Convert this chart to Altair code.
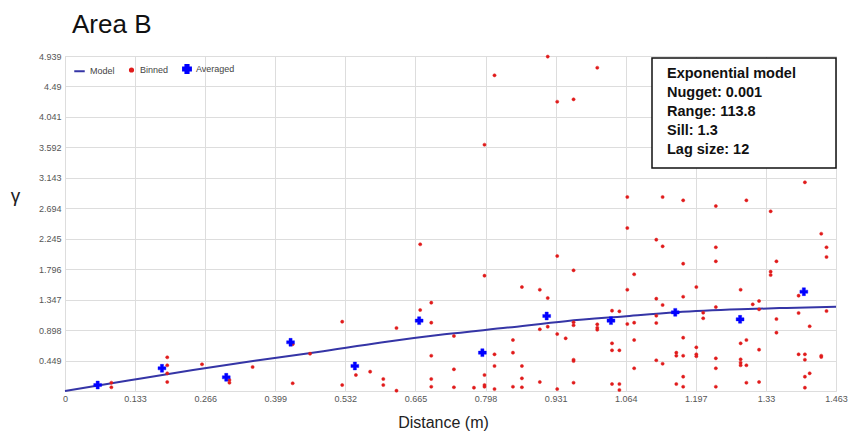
import altair as alt
import pandas as pd

# ---------------- data ----------------
title_text = "Area B"
x_title = "Distance (m)"
y_title = "γ"

x_ticks = [0, 0.133, 0.266, 0.399, 0.532, 0.665, 0.798, 0.931, 1.064, 1.197, 1.33, 1.463]
y_ticks = [0, 0.449, 0.898, 1.347, 1.796, 2.245, 2.694, 3.143, 3.592, 4.041, 4.49, 4.939]

model_x = [0, 0.12, 0.243, 0.36, 0.48, 0.6, 0.72, 0.84, 0.95, 1.06, 1.16, 1.28, 1.37, 1.463]
model_y = [0, 0.155, 0.31, 0.445, 0.575, 0.715, 0.835, 0.935, 1.03, 1.10, 1.16, 1.204, 1.225, 1.243]

avg_x = [0.062, 0.184, 0.306, 0.428, 0.550, 0.672, 0.792, 0.914, 1.036, 1.158, 1.281, 1.402]
avg_y = [0.088, 0.335, 0.202, 0.718, 0.369, 1.037, 0.565, 1.106, 1.037, 1.160, 1.057, 1.464]

bin_x = [0.088, 0.088, 0.194, 0.194, 0.194, 0.194, 0.260, 0.312, 0.312, 0.356,
         0.432, 0.432, 0.465, 0.526, 0.526, 0.552, 0.579, 0.604, 0.604, 0.629,
         0.629, 0.674, 0.674, 0.695, 0.695, 0.695, 0.695, 0.695, 0.738, 0.738,
         0.738, 0.916, 0.815, 1.010, 0.934, 0.965, 0.796, 1.404, 1.067, 1.134,
         1.173, 1.235, 1.293, 1.339, 1.067, 1.435, 1.122, 1.134, 1.235, 1.445,
         0.934, 1.445, 1.235, 1.350, 1.173, 0.965, 1.339, 1.339, 1.080, 0.796,
         0.867, 1.198, 0.901, 1.067, 1.282, 1.173, 0.916, 1.122, 1.317, 1.305,
         1.134, 1.392, 1.235, 1.317, 1.038, 1.052, 1.211, 1.392, 1.122, 1.211,
         1.350, 1.445, 0.965, 0.965, 1.010, 1.010, 1.010, 1.067, 1.080, 1.122,
         0.916, 1.413, 0.901, 0.934, 1.350, 0.950, 1.173, 0.850, 1.080, 1.293,
         1.282, 1.038, 1.198, 1.038, 1.052, 1.317, 0.815, 0.850, 1.160, 1.160,
         1.173, 1.198, 1.198, 1.392, 1.404, 1.404, 1.435, 1.435, 1.235, 1.282,
         1.282, 1.282, 0.965, 0.965, 1.122, 1.134, 1.293, 0.815, 0.867, 1.080,
         1.235, 0.796, 1.413, 1.404, 1.173, 0.867, 0.901, 1.293, 1.317, 0.965,
         1.038, 1.052, 1.160, 0.796, 0.796, 0.815, 0.850, 0.776, 0.867, 1.052,
         1.173, 1.235, 1.404, 0.934]
bin_y = [0.122, 0.055, 0.497, 0.379, 0.261, 0.133, 0.394, 0.162, 0.122, 0.354,
         0.689, 0.114, 0.550, 1.022, 0.088, 0.236, 0.285, 0.177, 0.088, 0.929,
         0.005, 2.163, 1.194, 1.302, 1.007, 0.520, 0.177, 0.063, 0.811, 0.320,
         0.055, 4.930, 4.654, 4.766, 4.265, 4.300, 3.631, 3.077, 2.860, 2.860,
         2.811, 2.727, 2.811, 2.649, 2.403, 2.319, 2.231, 2.133, 2.119, 2.119,
         1.990, 1.976, 1.912, 1.912, 1.877, 1.779, 1.759, 1.710, 1.721, 1.700,
         1.533, 1.533, 1.493, 1.493, 1.493, 1.390, 1.371, 1.361, 1.327, 1.278,
         1.268, 1.405, 1.238, 1.204, 1.184, 1.175, 1.154, 1.150, 1.110, 1.072,
         1.061, 1.179, 1.013, 0.969, 0.983, 0.933, 0.904, 0.988, 1.007, 1.003,
         0.948, 0.954, 0.910, 0.840, 0.860, 0.777, 0.786, 0.752, 0.752, 0.752,
         0.703, 0.703, 0.644, 0.600, 0.600, 0.609, 0.541, 0.565, 0.565, 0.520,
         0.520, 0.541, 0.512, 0.541, 0.541, 0.461, 0.520, 0.501, 0.482, 0.467,
         0.417, 0.379, 0.461, 0.442, 0.453, 0.402, 0.379, 0.369, 0.369, 0.335,
         0.335, 0.236, 0.261, 0.211, 0.211, 0.187, 0.133, 0.122, 0.133, 0.122,
         0.103, 0.103, 0.103, 0.088, 0.063, 0.029, 0.063, 0.049, 0.055, 0.015,
         0.063, 0.063, 0.049, 0.029]

info_lines = ["Exponential model", "Nugget: 0.001", "Range: 113.8", "Sill:  1.3", "Lag size: 12"]

series_names = ["Model", "Binned", "Averaged"]
series_colors = ["#3535a6", "#e01b1b", "#0000ff"]
series_shapes = ["stroke", "circle", "cross"]
series_sizes = [110, 10, 62]

# ---------------- tables ----------------
model_df = pd.DataFrame({"d": model_x, "g": model_y, "series": "Model"})
bin_df = pd.DataFrame({"d": bin_x, "g": bin_y, "series": "Binned"})
avg_df = pd.DataFrame({"d": avg_x, "g": avg_y, "series": "Averaged"})

FONT = "Liberation Sans"
W, H = 771, 335

xscale = alt.Scale(domain=[0, 1.463], nice=False, zero=False)
yscale = alt.Scale(domain=[0, 4.939], nice=False, zero=False)
cscale = alt.Scale(domain=series_names, range=series_colors)
sscale = alt.Scale(domain=series_names, range=series_shapes)
zscale = alt.Scale(type="ordinal", domain=series_names, range=series_sizes)

legend = alt.Legend(
    title=None, orient="top-left", direction="horizontal", offset=8,
    labelFontSize=9, labelColor="#444", labelFont=FONT,
    symbolStrokeWidth=2, columnPadding=10, labelOffset=4, padding=0,
)

xaxis = alt.Axis(
    values=x_ticks, format=".3~f", title=x_title, grid=True, ticks=False, domain=False,
    labelFontSize=9, labelColor="#555", labelFont=FONT, labelPadding=3,
    labelFlush=False, labelOverlap=False, labelBound=False,
    titleFontSize=16, titleFont=FONT, titleColor="#222", titleFontWeight="normal",
    titleX=378, titleY=31, titleBaseline="middle", titleAnchor="start", titleAlign="center",
)
yaxis = alt.Axis(
    values=y_ticks, format=".3~f", title=y_title, grid=True, ticks=False, domain=False,
    labelFontSize=9, labelColor="#555", labelFont=FONT, labelPadding=4,
    labelOverlap=False, labelBound=False, labelFlush=False, labelSeparation=0,
    labelExpr="datum.value == 0 ? '' : datum.label",
    titleAngle=0, titleX=-50, titleY=139, titleFontSize=19, titleFont=FONT,
    titleColor="#222", titleFontWeight="normal", titleAlign="center", titleBaseline="middle",
)

X = alt.X("d:Q", scale=xscale, axis=xaxis)
Y = alt.Y("g:Q", scale=yscale, axis=yaxis)

model_layer = alt.Chart(model_df).mark_line(strokeWidth=2, interpolate="monotone").encode(
    x=X, y=Y,
    color=alt.Color("series:N", scale=cscale, legend=legend),
)

def point_layer(df, sw):
    return alt.Chart(df).mark_point(filled=True, opacity=1, strokeWidth=sw).encode(
        x=X, y=Y,
        color=alt.Color("series:N", scale=cscale, legend=legend),
        shape=alt.Shape("series:N", scale=sscale, legend=legend),
        stroke=alt.Stroke("series:N", scale=cscale, legend=legend),
        size=alt.Size("series:N", scale=zscale, legend=legend),
    )

bin_layer = point_layer(bin_df, 0.5)
avg_layer = point_layer(avg_df, 0.4)

one = pd.DataFrame({"t": [title_text]})
title_layer = alt.Chart(one).mark_text(
    align="left", baseline="alphabetic", fontSize=26, font=FONT, color="#111"
).encode(x=alt.value(7), y=alt.value(-23), text="t:N")

box_layer = alt.Chart(one).mark_rect(fill="white", stroke="#111", strokeWidth=1.5).encode(
    x=alt.value(587), x2=alt.value(771), y=alt.value(2), y2=alt.value(112)
)

info_df = pd.DataFrame({"t": [info_lines]})
info_layer = alt.Chart(info_df).mark_text(
    align="left", baseline="top", fontSize=14.5, fontWeight="bold", font=FONT,
    color="#111", lineHeight=19,
).encode(x=alt.value(602), y=alt.value(11), text="t")

chart = alt.layer(
    model_layer, bin_layer, avg_layer, box_layer, info_layer, title_layer
).properties(
    width=W, height=H,
    autosize=alt.AutoSizeParams(type="none"),
    padding={"left": 65, "top": 56, "right": 12, "bottom": 44},
).configure_view(
    fill="#f4f4f4", stroke="#cccccc", strokeWidth=1.5
).configure_axis(
    gridColor="#d0d0d0", gridWidth=1.5, labelOverlap=False
).configure(background="white")

chart.save("out.html", embed_options={"renderer": "svg", "actions": False})
